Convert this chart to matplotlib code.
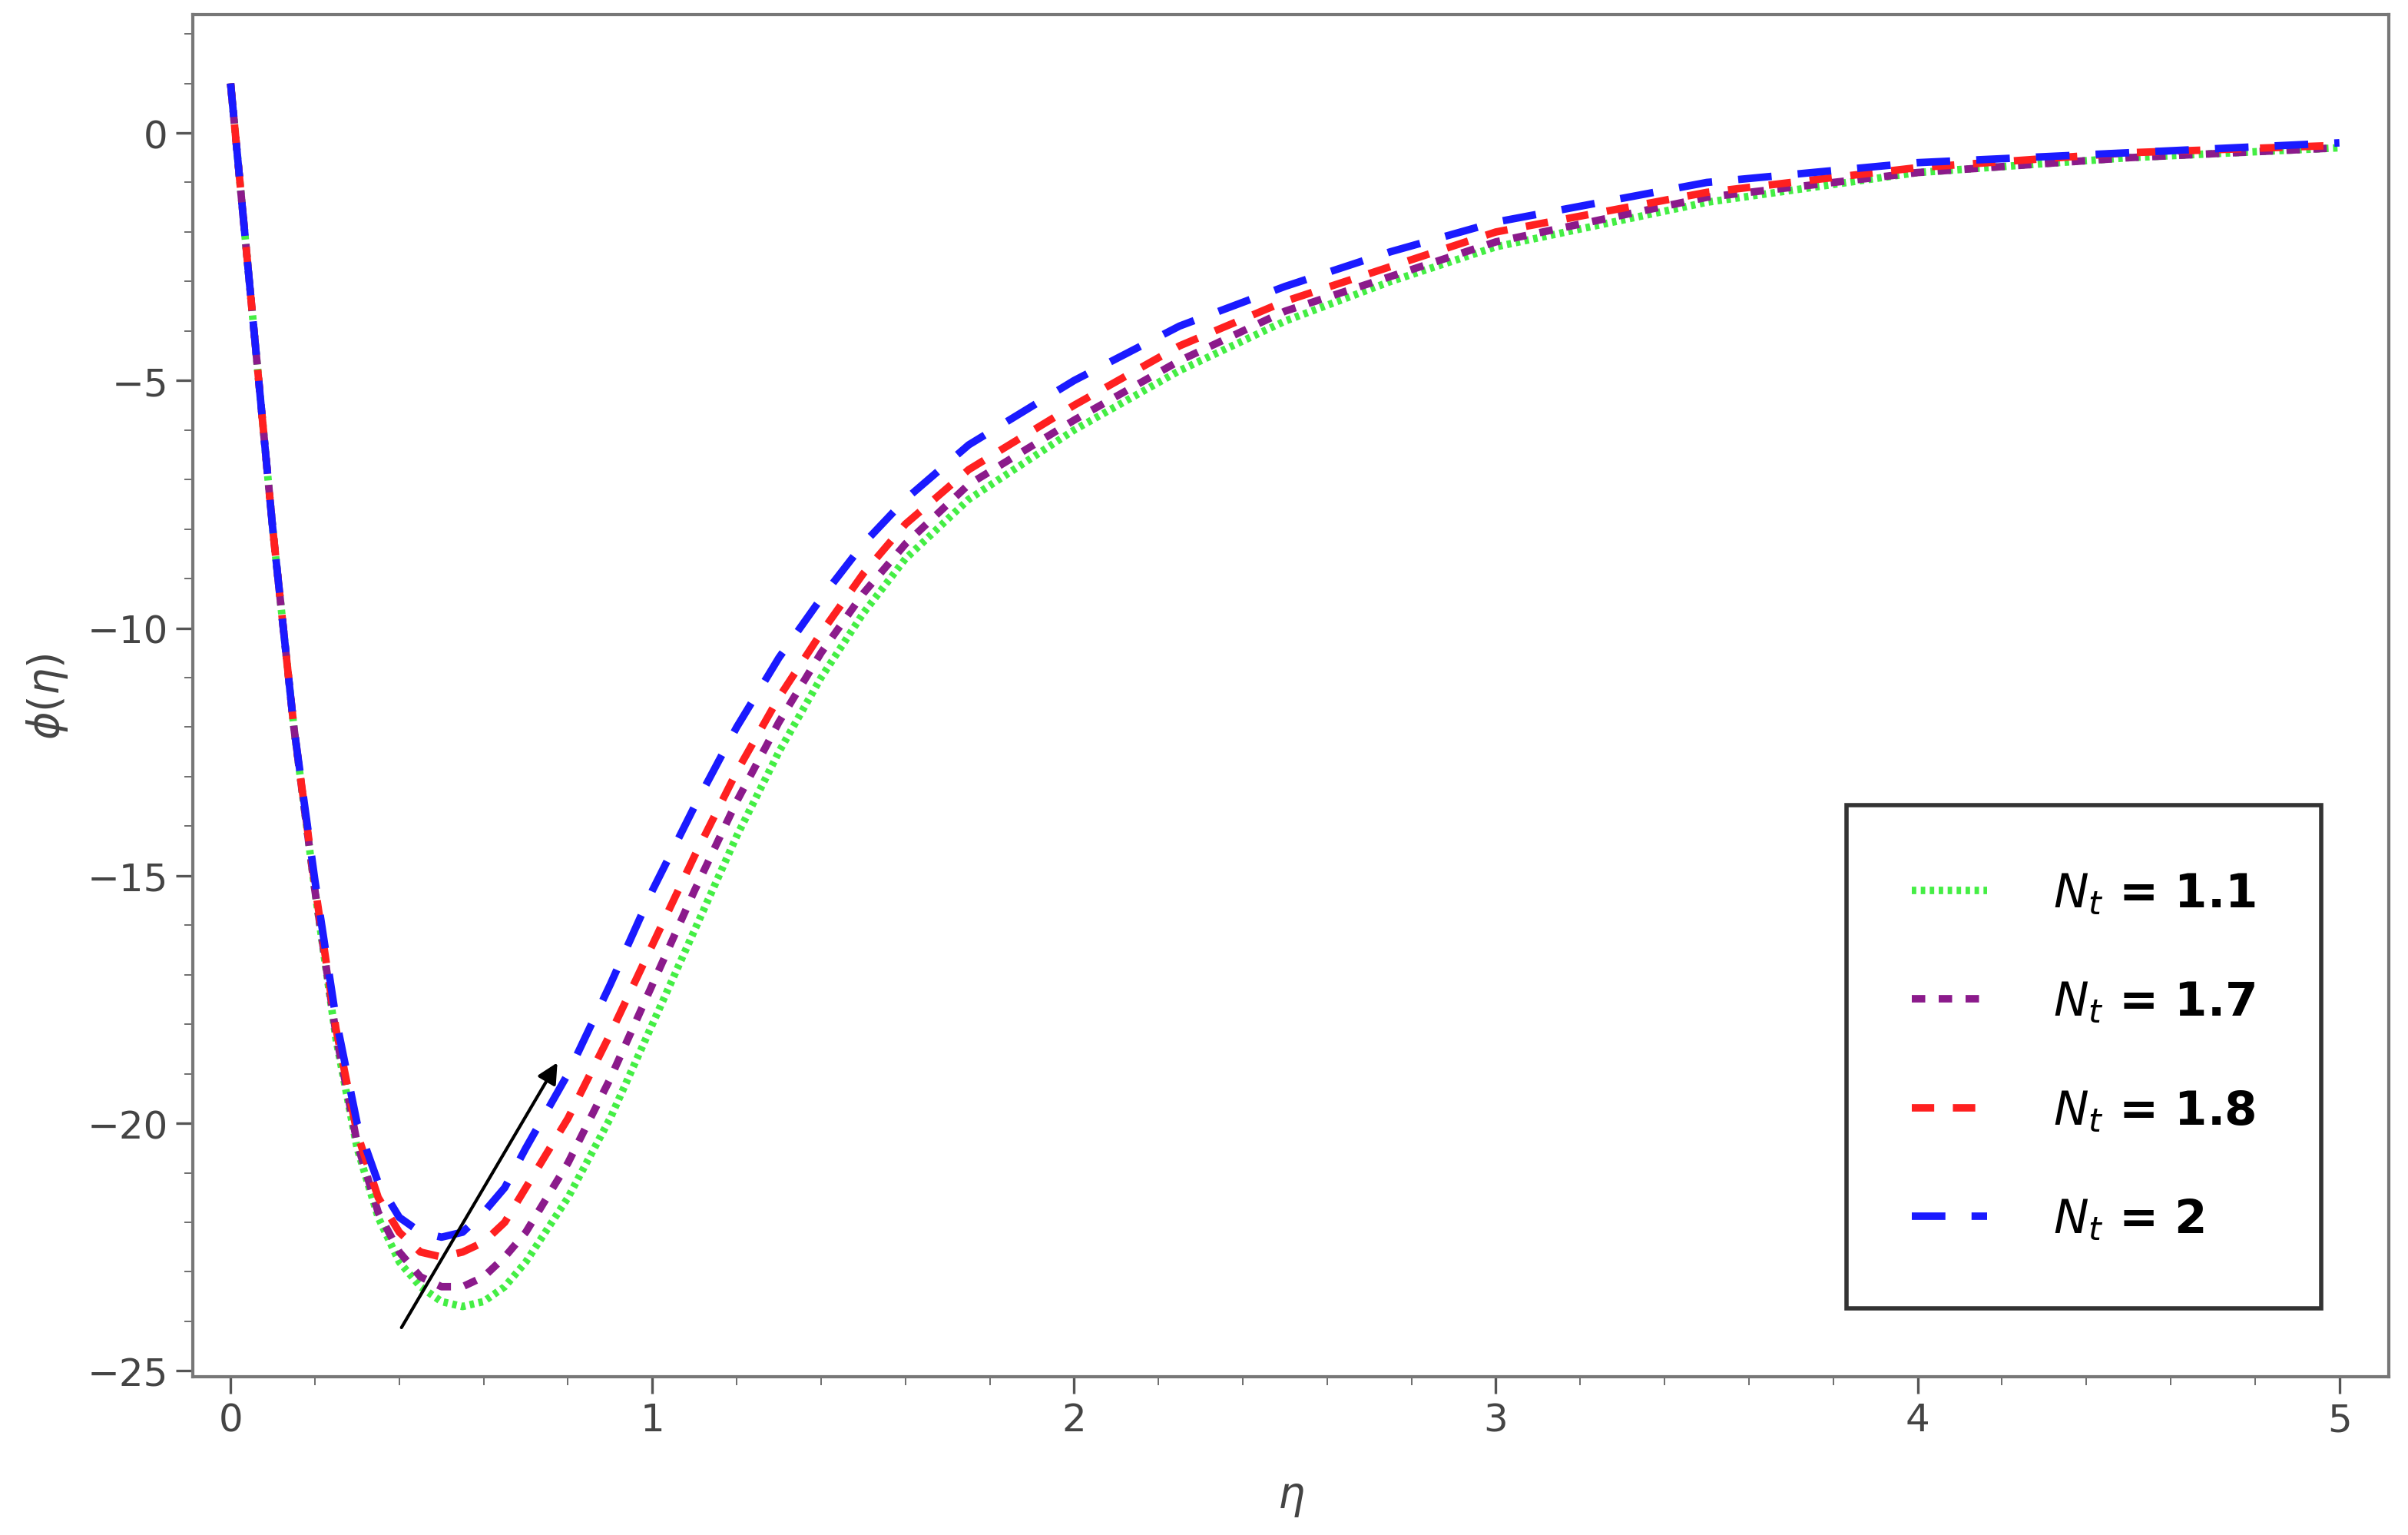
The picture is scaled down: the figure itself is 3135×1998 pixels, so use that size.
import matplotlib
matplotlib.use("Agg")
import matplotlib.pyplot as plt
from matplotlib.ticker import MultipleLocator

eta = [0.0, 0.05, 0.1, 0.15, 0.2, 0.25, 0.3, 0.35, 0.4, 0.45, 0.5, 0.55, 0.6, 0.65, 0.7, 0.8, 0.9,
       1.0, 1.1, 1.2, 1.3, 1.4, 1.5, 1.6, 1.75, 2.0, 2.25, 2.5, 2.75, 3.0, 3.5, 4.0, 4.5, 5.0]
phi_11 = [1.0, -3.5, -8.0, -12.0, -15.3, -18.3, -20.5, -21.9, -22.8, -23.3, -23.6, -23.7, -23.6, -23.3, -22.8,
          -21.5, -19.9, -18.0, -16.1, -14.2, -12.5, -11.0, -9.7, -8.6, -7.4, -6.0, -4.8, -3.8, -3.0, -2.3,
          -1.4, -0.8, -0.5, -0.3]
phi_17 = [1.0, -3.5, -8.0, -12.0, -15.3, -18.2, -20.4, -21.8, -22.6, -23.1, -23.3, -23.3, -23.1, -22.7, -22.2,
          -20.8, -19.1, -17.2, -15.3, -13.5, -11.9, -10.5, -9.3, -8.3, -7.1, -5.8, -4.6, -3.6, -2.9, -2.2,
          -1.3, -0.8, -0.5, -0.3]
phi_18 = [1.0, -3.5, -8.0, -12.0, -15.2, -18.1, -20.2, -21.5, -22.2, -22.6, -22.7, -22.6, -22.4, -22.0, -21.3,
          -19.9, -18.2, -16.4, -14.6, -12.9, -11.4, -10.1, -8.9, -7.9, -6.8, -5.5, -4.3, -3.4, -2.7, -2.0,
          -1.2, -0.7, -0.4, -0.25]
phi_20 = [1.0, -3.5, -8.0, -12.0, -15.1, -17.9, -20.0, -21.2, -21.9, -22.2, -22.3, -22.2, -21.8, -21.3, -20.5,
          -19.0, -17.2, -15.3, -13.6, -12.0, -10.6, -9.4, -8.3, -7.4, -6.3, -5.0, -3.9, -3.1, -2.4, -1.8,
          -1.0, -0.6, -0.4, -0.2]
labels = ["1.1", "1.7", "1.8", "2"]

fig = plt.figure(figsize=(15.675, 9.995), dpi=200)
ax = fig.add_axes([0.080, 0.103, 0.912, 0.887])

ax.plot(eta, phi_11, color="#44ee44", ls=(0, (0.6, 0.6)), lw=3.5, label=rf"$N_t$ = {labels[0]}")
ax.plot(eta, phi_17, color="#8b1a8b", ls=(0, (1.8, 1.8)), lw=3.5, label=rf"$N_t$ = {labels[1]}")
ax.plot(eta, phi_18, color="#ff2020", ls=(0, (3, 2.5)), lw=3.5, label=rf"$N_t$ = {labels[2]}")
ax.plot(eta, phi_20, color="#1a1aff", ls=(0, (4.5, 3.5)), lw=3.5, label=rf"$N_t$ = {labels[3]}")

ax.annotate("", xy=(0.78, -18.7), xytext=(0.4, -24.2),
            arrowprops=dict(arrowstyle="-|>", color="black", lw=1.5, mutation_scale=20))

ax.set_xlim(-0.09, 5.117)
ax.set_ylim(-25.12, 2.39)
ax.xaxis.set_major_locator(MultipleLocator(1))
ax.xaxis.set_minor_locator(MultipleLocator(0.2))
ax.yaxis.set_major_locator(MultipleLocator(5))
ax.yaxis.set_minor_locator(MultipleLocator(1))
ax.tick_params(labelsize=18, colors="#555555", labelcolor="#444444", length=8, width=1.2)
ax.tick_params(which="minor", length=4, colors="#555555")
for s in ax.spines.values():
    s.set_color("#777777")
    s.set_linewidth(1.5)
ax.set_xlabel(r"$\eta$", fontsize=20, color="#444444", labelpad=18)
ax.set_ylabel(r"$\phi(\eta)$", fontsize=20, color="#444444", labelpad=8)

leg = ax.legend(loc="lower right", bbox_to_anchor=(0.98, 0.033), fontsize=22, frameon=True,
                fancybox=False, edgecolor="black", handlelength=1.6, labelspacing=1.35,
                borderpad=1.4, handletextpad=1.4)
leg.get_frame().set_linewidth(2)
for t in leg.get_texts():
    t.set_fontweight("bold")

fig.savefig("out.png", dpi=200)
